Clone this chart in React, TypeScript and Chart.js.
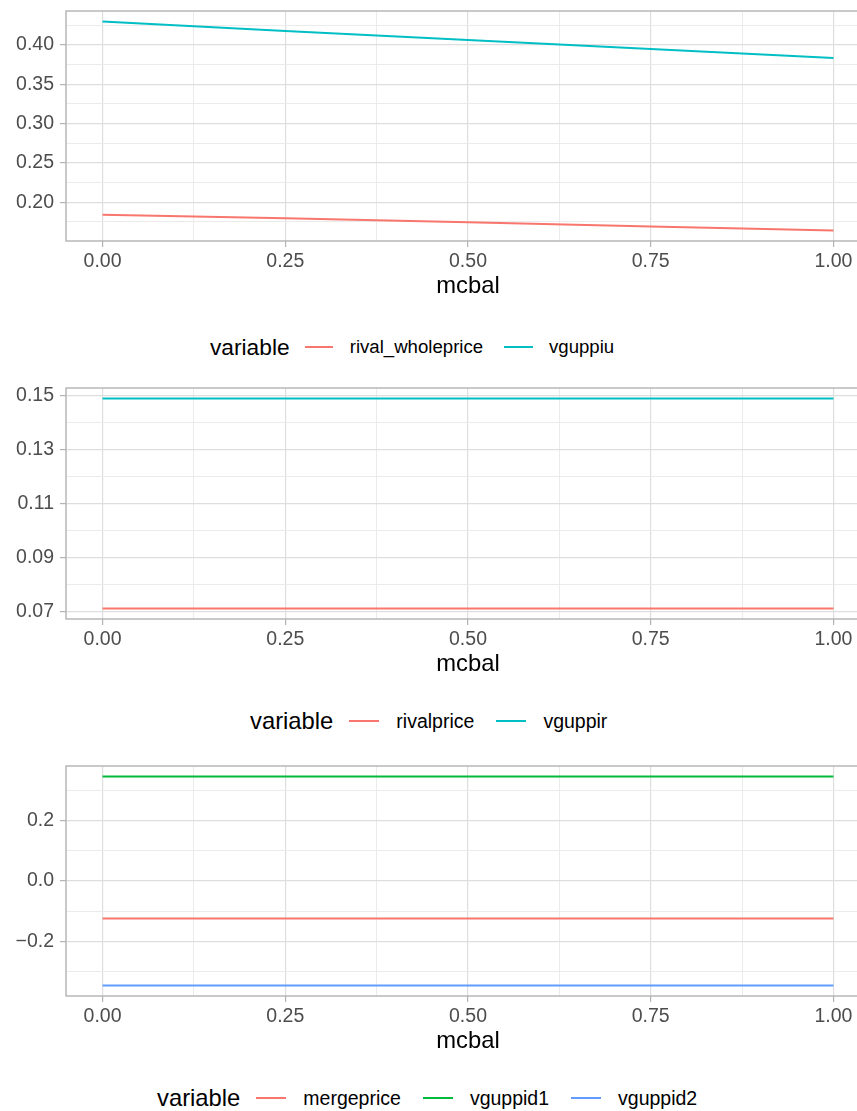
import React, { useEffect, useRef } from "react";
import { Chart, registerables } from "chart.js";

Chart.register(...registerables);

// ---------------- data ----------------
const mcbal = [0, 0.25, 0.5, 0.75, 1];

const rivalWholeprice = [0.184, 0.1795, 0.1745, 0.169, 0.164];
const vguppiu = [0.43, 0.418, 0.4065, 0.395, 0.3835];

const rivalprice = [0.0713, 0.0713, 0.0713, 0.0713, 0.0713];
const vguppir = [0.149, 0.149, 0.149, 0.149, 0.149];

const mergeprice = [-0.124, -0.124, -0.124, -0.124, -0.124];
const vguppid1 = [0.345, 0.345, 0.345, 0.345, 0.345];
const vguppid2 = [-0.345, -0.345, -0.345, -0.345, -0.345];

const xTicks = [0, 0.25, 0.5, 0.75, 1];
const xTickLabels = ["0.00", "0.25", "0.50", "0.75", "1.00"];
const xMinor = [0.125, 0.375, 0.625, 0.875];

const y1Ticks = [0.2, 0.25, 0.3, 0.35, 0.4];
const y1TickLabels = ["0.20", "0.25", "0.30", "0.35", "0.40"];
const y1Minor = [0.175, 0.225, 0.275, 0.325, 0.375, 0.425];

const y2Ticks = [0.07, 0.09, 0.11, 0.13, 0.15];
const y2TickLabels = ["0.07", "0.09", "0.11", "0.13", "0.15"];
const y2Minor = [0.08, 0.1, 0.12, 0.14];

const y3Ticks = [-0.2, 0, 0.2];
const y3TickLabels = ["\u22120.2", "0.0", "0.2"];
const y3Minor = [-0.3, -0.1, 0.1, 0.3];

const RED = "#F8766D";
const CYAN = "#00BFC4";
const GREEN = "#00BA38";
const BLUE = "#619CFF";

const FONT = "'Liberation Sans', Arial, Helvetica, sans-serif";
const TICK_SIZE = 19.5;
const TITLE_SIZE = 23.8;
const LEGEND_SIZE = 19.5;

type Series = { label: string; values: number[]; color: string };

function findIdx(arr: number[], v: number) {
  return arr.findIndex((a) => Math.abs(a - v) < 1e-9);
}

function expand(series: Series[]) {
  const all = series.flatMap((s) => s.values);
  const lo = Math.min(...all);
  const hi = Math.max(...all);
  const pad = (hi - lo) * 0.05;
  return [lo - pad, hi + pad];
}

const borderPlugin = {
  id: "panelBorder",
  afterDatasetsDraw(chart: any) {
    const { left, top, right, bottom } = chart.chartArea;
    const ctx = chart.ctx;
    ctx.save();
    ctx.strokeStyle = "#B3B3B3";
    ctx.lineWidth = 1.4;
    ctx.strokeRect(left, top, right - left, bottom - top);
    ctx.restore();
  },
};

function tickScale(major: number[], labels: string[], minor: number[]) {
  return {
    afterBuildTicks: (scale: any) => {
      const vals = [...major, ...minor].sort((a, b) => a - b);
      scale.ticks = vals.map((v) => ({ value: v }));
    },
    ticks: {
      autoSkip: false,
      maxRotation: 0,
      color: "#4D4D4D",
      font: { family: FONT, size: TICK_SIZE },
      callback: (v: number) => {
        const i = findIdx(major, v);
        return i >= 0 ? labels[i] : "";
      },
    },
    grid: {
      color: (c: any) =>
        c.tick && findIdx(major, c.tick.value) >= 0 ? "#DEDEDE" : "#EBEBEB",
      lineWidth: (c: any) =>
        c.tick && findIdx(major, c.tick.value) >= 0 ? 1.2 : 1,
      tickColor: (c: any) =>
        c.tick && findIdx(major, c.tick.value) >= 0 ? "#B3B3B3" : "rgba(0,0,0,0)",
      tickWidth: 1.2,
      tickLength: 6,
    },
    border: { display: false },
  };
}

function Panel(props: {
  top: number;
  height: number;
  series: Series[];
  yMajor: number[];
  yLabels: string[];
  yMinor: number[];
}) {
  const ref = useRef<HTMLCanvasElement | null>(null);
  useEffect(() => {
    if (!ref.current) return;
    const [ymin, ymax] = expand(props.series);
    const xs = tickScale(xTicks, xTickLabels, xMinor);
    const ys = tickScale(props.yMajor, props.yLabels, props.yMinor);
    const chart = new Chart(ref.current, {
      type: "line",
      data: {
        datasets: props.series.map((s) => ({
          label: s.label,
          data: mcbal.map((x, i) => ({ x, y: s.values[i] })),
          borderColor: s.color,
          backgroundColor: s.color,
          borderWidth: 2,
          pointRadius: 0,
          tension: 0,
          fill: false,
        })),
      },
      options: {
        animation: false,
        responsive: false,
        maintainAspectRatio: false,
        layout: { padding: { top: 11, left: 0, right: 0, bottom: 0 } },
        plugins: { legend: { display: false }, tooltip: { enabled: false } },
        scales: {
          x: {
            type: "linear",
            min: -0.05,
            max: 1.05,
            ...xs,
            ticks: { ...xs.ticks, padding: 3 },
            title: {
              display: true,
              text: "mcbal",
              color: "#000000",
              font: { family: FONT, size: TITLE_SIZE },
              padding: { top: 0, bottom: 0 },
            },
            afterFit: (scale: any) => {
              scale.height = 60;
              scale.paddingLeft = 0;
              scale.paddingRight = 0;
            },
          },
          y: {
            type: "linear",
            min: ymin,
            max: ymax,
            ...ys,
            ticks: { ...ys.ticks, padding: 6 },
            afterFit: (scale: any) => {
              scale.width = 66;
              scale.paddingTop = 0;
              scale.paddingBottom = 0;
            },
          },
        },
      } as any,
      plugins: [borderPlugin],
    });
    return () => chart.destroy();
  }, []);
  return (
    <canvas
      ref={ref}
      width={870}
      height={props.height}
      style={{ position: "absolute", left: 0, top: props.top, width: 870, height: props.height }}
    />
  );
}

function Legend(props: { top: number; left: number; series: Series[]; k?: number }) {
  const k = props.k ?? 1;
  return (
    <div
      style={{
        position: "absolute",
        top: props.top - 15,
        left: props.left,
        height: 30,
        display: "flex",
        alignItems: "center",
        fontFamily: FONT,
        color: "#000",
        whiteSpace: "nowrap",
      }}
    >
      <span style={{ fontSize: TITLE_SIZE * k, marginRight: 16 * k }}>variable</span>
      {props.series.map((s) => (
        <React.Fragment key={s.label}>
          <span
            style={{
              display: "inline-block",
              width: 30 * k,
              height: 2.5,
              background: s.color,
              marginRight: 17 * k,
            }}
          />
          <span style={{ fontSize: LEGEND_SIZE * k, marginRight: 22 * k }}>{s.label}</span>
        </React.Fragment>
      ))}
    </div>
  );
}

const panel1: Series[] = [
  { label: "rival_wholeprice", values: rivalWholeprice, color: RED },
  { label: "vguppiu", values: vguppiu, color: CYAN },
];
const panel2: Series[] = [
  { label: "rivalprice", values: rivalprice, color: RED },
  { label: "vguppir", values: vguppir, color: CYAN },
];
const panel3: Series[] = [
  { label: "mergeprice", values: mergeprice, color: RED },
  { label: "vguppid1", values: vguppid1, color: GREEN },
  { label: "vguppid2", values: vguppid2, color: BLUE },
];

export default function App() {
  return (
    <div
      style={{
        position: "absolute",
        left: 0,
        top: 0,
        width: 857,
        height: 1111,
        overflow: "hidden",
        background: "#fff",
      }}
    >
      <Panel top={0} height={301} series={panel1} yMajor={y1Ticks} yLabels={y1TickLabels} yMinor={y1Minor} />
      <Legend top={347} left={210} series={panel1} k={0.955} />
      <Panel top={377} height={302} series={panel2} yMajor={y2Ticks} yLabels={y2TickLabels} yMinor={y2Minor} />
      <Legend top={721} left={250} series={panel2} />
      <Panel top={755} height={301} series={panel3} yMajor={y3Ticks} yLabels={y3TickLabels} yMinor={y3Minor} />
      <Legend top={1098} left={157} series={panel3} />
    </div>
  );
}
